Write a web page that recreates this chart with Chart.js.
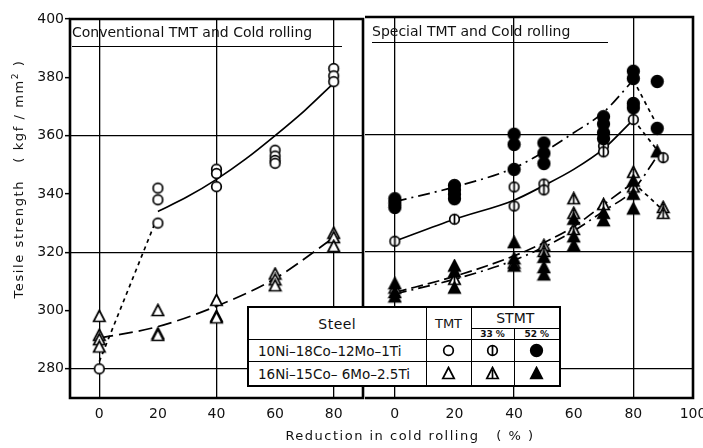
<!DOCTYPE html>
<html>
<head>
<meta charset="utf-8">
<script src="https://cdn.jsdelivr.net/npm/chart.js@4/dist/chart.umd.min.js"></script>
<style>
  body { margin: 0; width: 703px; height: 448px; overflow: hidden; background: #fff; position: relative; font-family: "DejaVu Sans", sans-serif; color: #111; }
  canvas.panel { position: absolute; top: 0; }
  #left { left: 0; }
  #right { left: 360px; }
  .ptitle { position: absolute; font-size: 14px; white-space: nowrap; border-bottom: 1.5px solid #000; line-height: 17px; }
  #ytitle { position: absolute; left: -117px; top: 170px; width: 264px; height: 18px; line-height: 18px; text-align: center; font-size: 13px; letter-spacing: 1.6px; transform: rotate(-90deg); white-space: nowrap; }
  #ytitle sup { font-size: 9px; }
  #xtitle { position: absolute; left: 282px; top: 428px; width: 256px; text-align: center; font-size: 13px; letter-spacing: 1.5px; white-space: nowrap; }
  #key { position: absolute; left: 247px; top: 306px; border-collapse: collapse; table-layout: fixed; background: #fff; border: 2px solid #000; }
  #key th, #key td { border: 1.5px solid #000; padding: 0; text-align: center; font-weight: normal; vertical-align: middle; }
  #key .steel { font-size: 14px; letter-spacing: 0.5px; }
  #key .tmt { font-size: 13px; }
  #key .stmt { font-size: 14px; height: 20px; line-height: 14px; }
  #key .sub { font-size: 9px; height: 10px; line-height: 9px; font-weight: bold; }
  #key td.name { text-align: left; padding-left: 9px; font-size: 13.5px; white-space: nowrap; }
  #key tr.r1 td { height: 21px; }
  #key tr.r2 td { height: 23px; }
  #key canvas { display: block; margin: 0 auto; }
</style>
</head>
<body>
<canvas id="left" class="panel" width="368" height="448"></canvas>
<canvas id="right" class="panel" width="370" height="448"></canvas>

<div class="ptitle" style="left:72px; top:24px; width:270px; padding-bottom:5px;">Conventional TMT and Cold rolling</div>
<div class="ptitle" style="left:372px; top:23px; width:236px; padding-bottom:2px;">Special TMT and Cold rolling</div>
<div id="ytitle">Tesile strength&nbsp;&nbsp;&nbsp;( kgf / mm<sup>2</sup> )</div>
<div id="xtitle">Reduction in cold rolling&nbsp;&nbsp;&nbsp;( % )</div>

<table id="key">
  <colgroup><col style="width:178px"><col style="width:45px"><col style="width:43px"><col style="width:46px"></colgroup>
  <tr><th rowspan="2" class="steel">Steel</th><th rowspan="2" class="tmt">TMT</th><th colspan="2" class="stmt">STMT</th></tr>
  <tr><th class="sub">33 %</th><th class="sub">52 %</th></tr>
  <tr class="r1"><td class="name">10Ni–18Co–12Mo–1Ti</td><td id="k-c-open"></td><td id="k-c-half"></td><td id="k-c-solid"></td></tr>
  <tr class="r2"><td class="name">16Ni–15Co– 6Mo–2.5Ti</td><td id="k-t-open"></td><td id="k-t-half"></td><td id="k-t-solid"></td></tr>
</table>

<script>
// axes
const yTicks = [280, 300, 320, 340, 360, 380, 400];
const yGrid = [280, 320, 360];
const convTicks = [0, 20, 40, 60, 80];
const specTicks = [0, 20, 40, 60, 80, 100];
const xGrid = [0, 40, 80];

// conventional TMT and cold rolling
const convX = [0, 20, 40, 60, 80];
const convCircle = [[280], [342, 338, 330], [348.5, 347, 342.5], [355, 353, 351.5, 350.5], [383, 380.5, 378.5]];
const convTriangle = [[298, 291.5, 290, 287.5], [300, 292, 291.5], [303.5, 298, 297.5], [312.5, 310.5, 308.5], [326.5, 325, 322]];
const convCircleFitX = [20, 30, 40, 50, 60, 70, 80];
const convCircleFitY = [334, 339, 345, 352, 360, 368.5, 378];
const convCircleLinkX = [0, 19];
const convCircleLinkY = [282.5, 330];
const convTriFitX = [0, 20, 40, 60, 80];
const convTriFitY = [290.5, 294.5, 301.5, 311, 325];

// special TMT (33 % and 52 %) and cold rolling
const s33CircleX = [0, 20, 40, 50, 70, 80, 90];
const s33Circle = [[323.5], [331], [342, 335.5], [343, 341], [356, 354], [365], [352]];
const s52CircleX = [0, 20, 40, 50, 70, 80, 88];
const s52Circle = [[338, 336.5, 335], [342.5, 341, 339.5, 338], [360, 356.5, 348], [357, 353.5, 350], [366, 363.5, 360.5, 358.5], [381.5, 379, 370.5, 369], [378, 362]];
const s33TriX = [0, 20, 40, 50, 60, 70, 80, 90];
const s33Tri = [[307.5], [310.5], [316], [322, 320], [338, 333, 327.5], [336], [347, 342], [335, 333]];
const s52TriX = [0, 20, 40, 50, 60, 70, 80, 88];
const s52Tri = [[309, 306, 304.5], [315, 313, 307.5], [323, 317.5, 315], [318, 314.5, 312], [331, 325, 322], [333, 330.5], [344, 339.5, 334.5], [354]];

const fitX = [0, 20, 40, 50, 60, 70, 80];
const s33CircleFitY = [323.5, 331, 337.5, 342.5, 348, 355, 365];
const s52CircleFitY = [337, 342, 348.5, 354, 360.5, 367.5, 378.5];
const s33TriFitY = [306, 311.5, 318.5, 323, 328.5, 336, 343.5];
const s52TriFitX = [0, 20, 40, 50, 60, 70, 80, 88];
const s52TriFitY = [305.5, 310.5, 317, 321.5, 327, 333.8, 341, 352.5];
const s33CircleDropX = [80, 90], s33CircleDropY = [365, 352];
const s52CircleDropX = [80, 88], s52CircleDropY = [378.5, 363];
const s33TriDropX = [80, 90], s33TriDropY = [343.5, 334];

const pts = (xs, groups) => xs.flatMap((x, i) => groups[i].map(y => ({x: x, y: y})));
const curve = (xs, ys) => xs.map((x, i) => ({x: x, y: ys[i]}));

function marker(shape, fill) {
    const c = document.createElement("canvas");
    c.width = 15; c.height = 15;
    const g = c.getContext("2d");
    g.lineWidth = 1.7;
    g.strokeStyle = "#000";
    g.fillStyle = fill === "solid" ? "#000" : "#fff";
    g.beginPath();
    if (shape === "circle") {
        g.arc(7.5, 7.5, fill === "solid" ? 5.8 : 4.8, 0, Math.PI * 2);
    } else {
        g.moveTo(7.5, 1.5); g.lineTo(13.2, 12.5); g.lineTo(1.8, 12.5); g.closePath();
    }
    g.fill();
    g.stroke();
    if (fill === "half") {
        g.beginPath();
        g.moveTo(7.5, shape === "circle" ? 3 : 4);
        g.lineTo(7.5, shape === "circle" ? 12 : 12.5);
        g.stroke();
    }
    return c;
}

const marks = {};
["circle", "triangle"].forEach(s => ["open", "half", "solid"].forEach(f => {
    marks[s + "-" + f] = marker(s, f);
    document.getElementById("k-" + s[0] + "-" + f).appendChild(marker(s, f));
}));

function points(data, style) {
    return { data: data, pointStyle: marks[style], showLine: false };
}
function line(data, dash) {
    return { data: data, showLine: true, pointRadius: 0, borderColor: "#000", borderWidth: 1.7, borderDash: dash, tension: 0.4, cubicInterpolationMode: "monotone", fill: false };
}

// box round the plot area; the right panel shares its left edge with the left panel
function frame(skipLeft) {
    return {
        id: "frame",
        afterDraw(chart) {
            const a = chart.chartArea, ctx = chart.ctx;
            ctx.save();
            ctx.lineWidth = 2.6;
            ctx.strokeStyle = "#000";
            ctx.beginPath();
            ctx.moveTo(a.left, a.top);
            ctx.lineTo(a.right, a.top);
            ctx.lineTo(a.right, a.bottom);
            ctx.lineTo(a.left, a.bottom);
            if (!skipLeft) ctx.closePath();
            ctx.stroke();
            ctx.restore();
        }
    };
}

const tickFont = { family: "DejaVu Sans", size: 14 };

function panel(id, xMin, xMax, xTicks, showY, padding, datasets) {
    return new Chart(document.getElementById(id).getContext("2d"), {
        type: "scatter",
        data: { datasets: datasets },
        options: {
            responsive: false,
            animation: false,
            layout: { padding: padding },
            plugins: { legend: { display: false }, tooltip: { enabled: false } },
            scales: {
                x: {
                    type: "linear", min: xMin, max: xMax,
                    afterBuildTicks: s => { s.ticks = xTicks.map(v => ({value: v})); },
                    afterFit: s => { s.height = 50; },
                    border: { display: false },
                    grid: { color: c => xGrid.includes(c.tick.value) ? "#000" : "rgba(0,0,0,0)", lineWidth: 1.3, drawTicks: false },
                    ticks: { font: tickFont, color: "#111", padding: 8, maxRotation: 0 }
                },
                y: {
                    type: "linear", min: 270, max: 400,
                    afterBuildTicks: s => { s.ticks = yTicks.map(v => ({value: v})); },
                    afterFit: s => { s.width = showY ? 70 : 0; },
                    border: { display: false },
                    grid: { color: c => yGrid.includes(c.tick.value) ? "#000" : "rgba(0,0,0,0)", lineWidth: 1.3, drawTicks: showY, tickLength: 5, tickColor: "#000", tickWidth: 1.5 },
                    ticks: { display: showY, font: tickFont, color: "#111", padding: 1 }
                }
            }
        },
        plugins: [frame(!showY)]
    });
}

panel("left", -10, 90, convTicks, true, { top: 19, right: 3, bottom: 0, left: 0 }, [
    points(pts(convX, convCircle), "circle-open"),
    points(pts(convX, convTriangle), "triangle-open"),
    line(curve(convCircleFitX, convCircleFitY), []),
    line(curve(convCircleLinkX, convCircleLinkY), [4, 4]),
    line(curve(convTriFitX, convTriFitY), [14, 6])
]);

panel("right", -10, 100, specTicks, false, { top: 17, right: 37, bottom: 0, left: 5 }, [
    points(pts(s52CircleX, s52Circle), "circle-solid"),
    points(pts(s33CircleX, s33Circle), "circle-half"),
    points(pts(s52TriX, s52Tri), "triangle-solid"),
    points(pts(s33TriX, s33Tri), "triangle-half"),
    line(curve(fitX, s52CircleFitY), [12, 5, 2, 5]),
    line(curve(fitX, s33CircleFitY), []),
    line(curve(s52TriFitX, s52TriFitY), [12, 5, 2, 5]),
    line(curve(fitX, s33TriFitY), [12, 5]),
    line(curve(s52CircleDropX, s52CircleDropY), [4, 4]),
    line(curve(s33CircleDropX, s33CircleDropY), [4, 4]),
    line(curve(s33TriDropX, s33TriDropY), [4, 4])
]);
</script>
</body>
</html>
